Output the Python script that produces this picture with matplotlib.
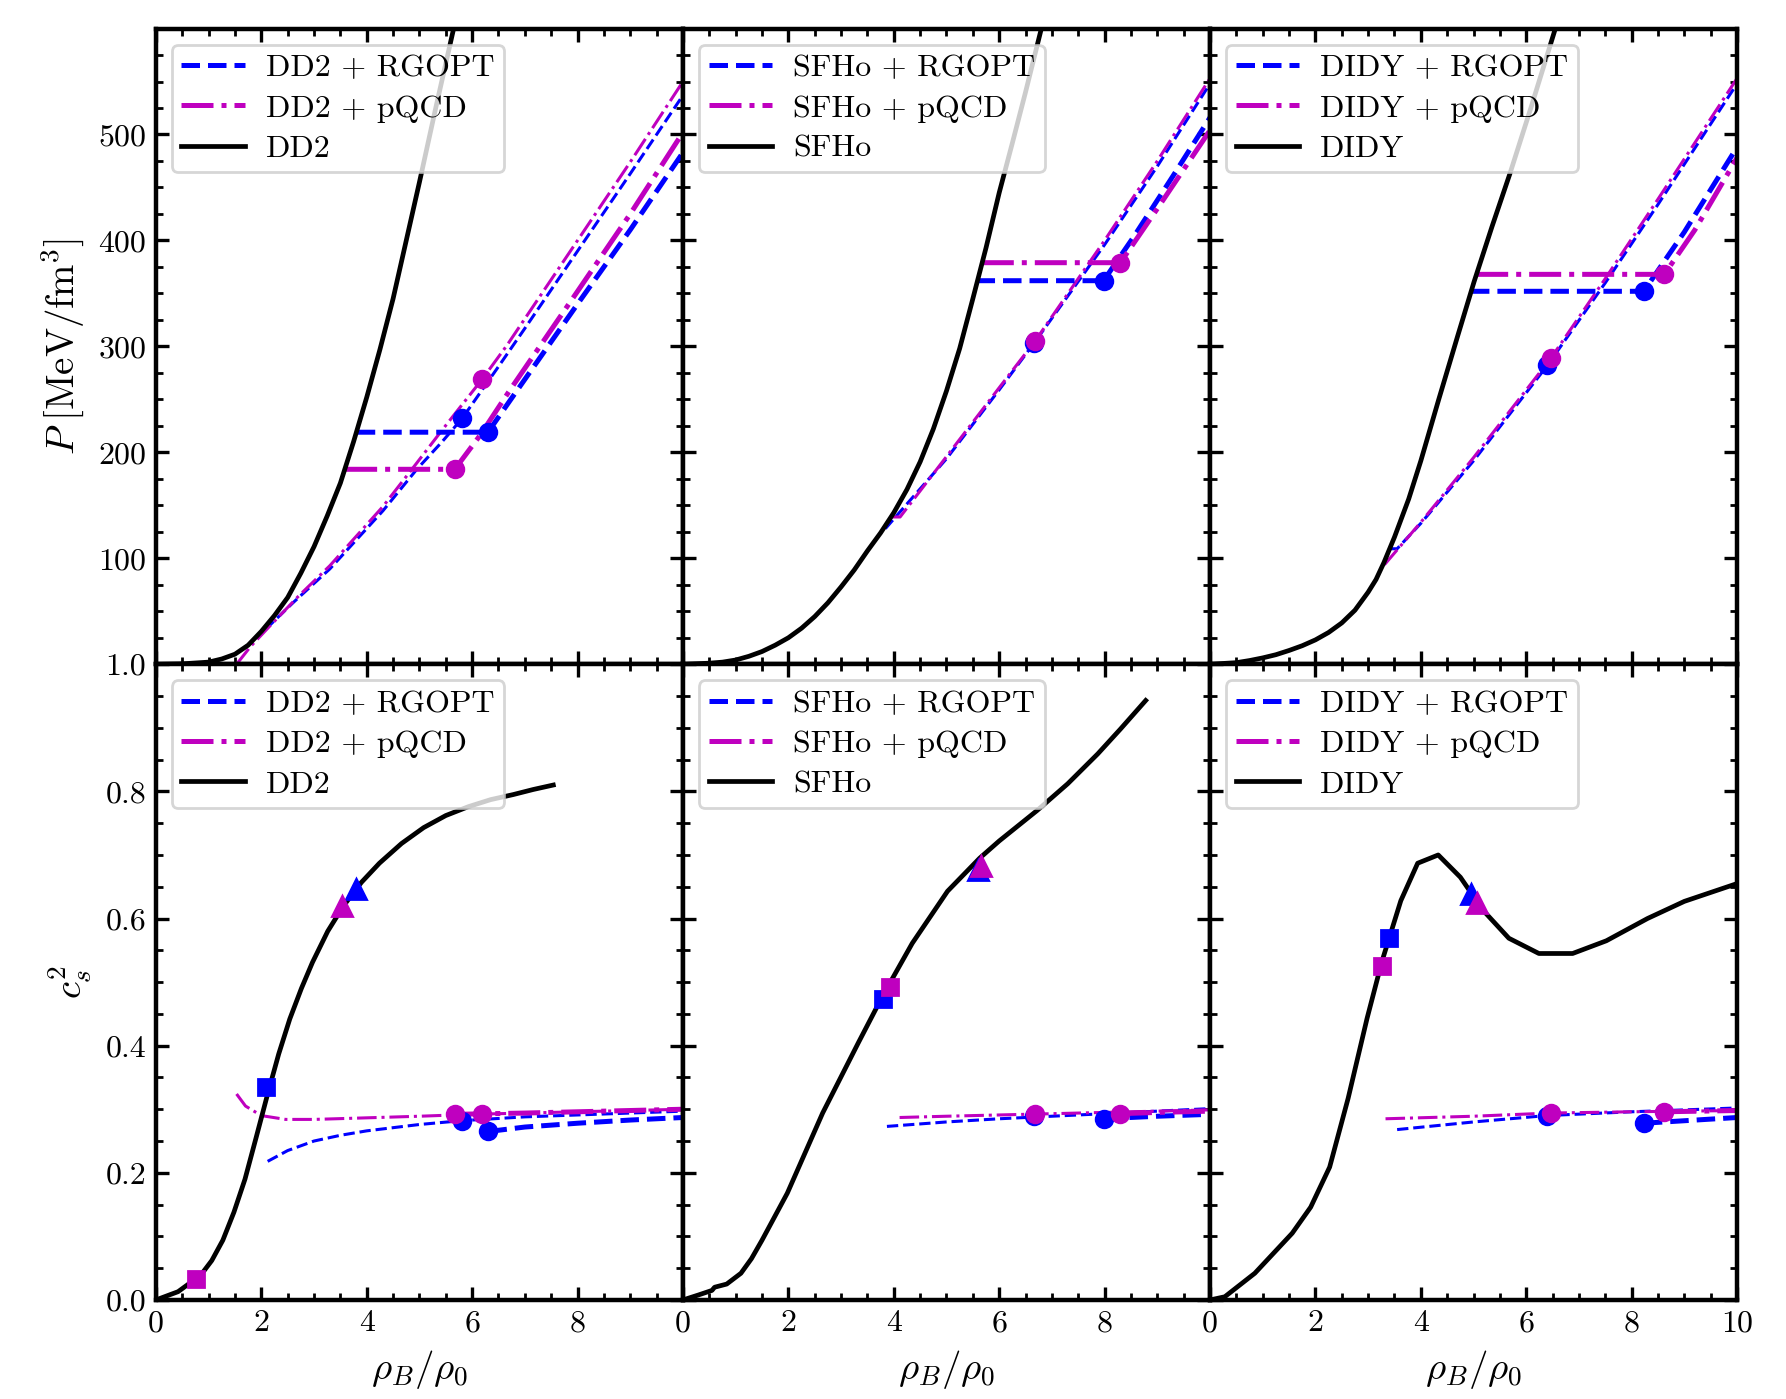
import matplotlib
matplotlib.use("Agg")
import matplotlib.pyplot as plt
from matplotlib.ticker import MultipleLocator

plt.rcParams['font.family'] = 'serif'
plt.rcParams['font.serif'] = ['cmr10']
plt.rcParams['mathtext.fontset'] = 'cm'
plt.rcParams['axes.formatter.use_mathtext'] = True

EOS_NAMES = ['DD2', 'SFHo', 'DIDY']

# ---------------- pressure P(rho) [MeV/fm^3] ----------------
# DD2
dd2_rho = [0, 0.5, 1.0, 1.25, 1.5, 1.75, 2.0, 2.25, 2.5, 2.75, 3.0, 3.25, 3.5, 3.75,
           4.0, 4.25, 4.5, 5.0, 5.3, 5.64, 5.7]
dd2_p = [0, 0.4, 2, 5, 9.5, 18, 31, 46, 63, 86, 111, 140, 171, 210,
         252, 297, 345, 455, 523, 598, 612]
dd2_rg_rho = [2.08, 2.6, 3.3, 4.31, 4.95, 5.43, 5.81, 6.5, 7.0, 8.0, 9.0, 10.0]
dd2_rg_p = [33, 58, 90, 145, 184, 210, 232, 281, 317, 390, 463, 537]
dd2_pq_rho = [1.53, 1.8, 2.16, 2.7, 3.3, 4.31, 4.95, 5.43, 6.19, 6.66, 8.0, 9.0, 10.0]
dd2_pq_p = [0, 17, 36, 64, 93, 149, 190, 221, 269, 301, 400, 474, 550]
dd2_rg_mix_rho = [3.81, 6.3, 6.72, 8.0, 9.0, 10.0]
dd2_rg_mix_p = [219, 219, 249, 340, 410, 483]
dd2_pq_mix_rho = [3.59, 5.67, 6.15, 6.72, 8.0, 9.0, 10.0]
dd2_pq_mix_p = [184, 184, 216, 259, 352, 425, 502]

# SFHo
sfho_rho = [0, 0.5, 0.75, 1.0, 1.25, 1.5, 1.75, 2.0, 2.25, 2.5, 2.75, 3.0, 3.25, 3.5,
            3.75, 4.0, 4.25, 4.5, 4.75, 5.0, 5.25, 5.5, 5.75, 6.0, 6.25, 6.5, 6.85]
sfho_p = [0, 1, 2, 4, 7.5, 12, 18, 25, 34, 45, 58, 73, 89, 107,
          124, 143, 165, 191, 222, 258, 298, 345, 393, 445, 492, 540, 610]
sfho_rg_rho = [3.84, 5.0, 6.0, 6.66, 8.0, 9.0, 10.0]
sfho_rg_p = [128, 194, 259, 303, 396, 470, 548]
sfho_pq_rho = [3.95, 4.12, 5.0, 6.0, 6.68, 8.0, 9.0, 10.0]
sfho_pq_p = [139, 139, 196, 261, 305, 400, 475, 553]
sfho_rg_mix_rho = [5.57, 7.98, 8.56, 9.3, 10.0]
sfho_rg_mix_p = [362, 362, 404, 461, 516]
sfho_pq_mix_rho = [5.67, 8.30, 9.0, 10.0]
sfho_pq_mix_p = [379, 379, 430, 504]

# DIDY
didy_rho = [0, 0.5, 0.75, 1.0, 1.25, 1.5, 1.75, 2.0, 2.25, 2.5, 2.75, 3.0, 3.15, 3.3,
            3.5, 3.77, 4.0, 4.34, 4.7, 5.01, 5.35, 5.69, 6.1, 6.54, 6.6]
didy_p = [0, 1.5, 3.5, 6, 9, 13, 17.5, 23, 30, 39, 51, 68, 80, 96,
          120, 156, 192, 250, 310, 361, 413, 463, 527, 598, 607]
didy_rg_rho = [3.4, 3.55, 4.0, 5.0, 6.4, 7.5, 8.5, 10.0]
didy_rg_p = [109, 109, 133, 192, 282, 360, 434, 548]
didy_pq_rho = [3.31, 4.0, 5.0, 6.47, 7.5, 8.5, 10.0]
didy_pq_p = [94, 134, 195, 289, 364, 439, 553]
didy_rg_mix_rho = [4.95, 8.23, 9.0, 10.0]
didy_rg_mix_p = [352, 352, 408, 488]
didy_pq_mix_rho = [5.05, 8.62, 9.2, 10.0]
didy_pq_mix_p = [368, 368, 410, 478]

# transition points (circles) in P: [thin, mixed]
dd2_rg_dot_rho, dd2_rg_dot_p = [5.81, 6.3], [232, 219]
dd2_pq_dot_rho, dd2_pq_dot_p = [6.19, 5.67], [269, 184]
sfho_rg_dot_rho, sfho_rg_dot_p = [6.66, 7.98], [303, 362]
sfho_pq_dot_rho, sfho_pq_dot_p = [6.68, 8.30], [305, 379]
didy_rg_dot_rho, didy_rg_dot_p = [6.4, 8.23], [282, 352]
didy_pq_dot_rho, didy_pq_dot_p = [6.47, 8.62], [289, 368]

# ---------------- speed of sound squared ----------------
dd2_cs_rho = [0, 0.42, 0.85, 1.06, 1.27, 1.48, 1.69, 1.9, 2.12, 2.33, 2.54, 2.76,
              2.97, 3.26, 3.56, 3.9, 4.24, 4.66, 5.08, 5.5, 5.93, 6.35, 6.78, 7.16, 7.54]
dd2_cs2 = [0, 0.013, 0.039, 0.062, 0.094, 0.138, 0.19, 0.255, 0.324, 0.387, 0.442, 0.49,
           0.531, 0.58, 0.62, 0.657, 0.687, 0.718, 0.743, 0.762, 0.776, 0.787, 0.795, 0.803, 0.81]
dd2_rg_cs_rho = [2.12, 2.5, 3.0, 3.5, 4.0, 5.0, 5.8, 7.0, 8.0, 9.0, 10.0]
dd2_rg_cs2 = [0.218, 0.235, 0.25, 0.259, 0.266, 0.276, 0.282, 0.288, 0.291, 0.294, 0.297]
dd2_pq_cs_rho = [1.53, 1.7, 2.0, 2.46, 3.0, 3.81, 5.0, 6.0, 7.0, 8.0, 9.0, 10.0]
dd2_pq_cs2 = [0.324, 0.305, 0.29, 0.284, 0.284, 0.286, 0.289, 0.292, 0.294, 0.296, 0.298, 0.300]
dd2_rg_mix_cs_rho = [6.31, 7.0, 8.0, 9.0, 10.0]
dd2_rg_mix_cs2 = [0.265, 0.272, 0.278, 0.283, 0.287]
dd2_pq_mix_cs_rho = [5.68, 7.0, 8.0, 9.0, 10.0]
dd2_pq_mix_cs2 = [0.292, 0.294, 0.296, 0.298, 0.300]

sfho_cs_rho = [0, 0.3, 0.55, 0.6, 0.83, 1.1, 1.3, 1.5, 1.98, 2.65, 3.33, 3.8, 4.35,
               5.02, 5.63, 6.0, 6.72, 7.3, 7.87, 8.3, 8.78]
sfho_cs2 = [0, 0.008, 0.015, 0.02, 0.025, 0.042, 0.065, 0.094, 0.168, 0.294, 0.405, 0.48,
            0.561, 0.643, 0.695, 0.722, 0.77, 0.812, 0.859, 0.898, 0.943]
sfho_rg_cs_rho = [3.87, 5.0, 6.0, 7.0, 8.0, 9.0, 10.0]
sfho_rg_cs2 = [0.273, 0.28, 0.285, 0.289, 0.293, 0.297, 0.301]
sfho_pq_cs_rho = [4.11, 5.0, 6.0, 7.0, 8.0, 9.0, 10.0]
sfho_pq_cs2 = [0.287, 0.289, 0.291, 0.293, 0.295, 0.297, 0.299]
sfho_rg_mix_cs_rho = [7.97, 9.0, 10.0]
sfho_rg_mix_cs2 = [0.285, 0.289, 0.292]
sfho_pq_mix_cs_rho = [8.29, 9.0, 10.0]
sfho_pq_mix_cs2 = [0.293, 0.295, 0.297]

didy_cs_rho = [0, 0.28, 0.85, 1.56, 1.91, 2.27, 2.62, 2.98, 3.26, 3.62, 3.94, 4.33,
               4.75, 5.18, 5.67, 6.24, 6.88, 7.52, 8.3, 9.0, 10.0]
didy_cs2 = [0, 0.005, 0.042, 0.105, 0.146, 0.209, 0.317, 0.443, 0.532, 0.628, 0.687, 0.700,
            0.665, 0.613, 0.569, 0.545, 0.545, 0.565, 0.6, 0.627, 0.655]
didy_rg_cs_rho = [3.55, 5.0, 6.38, 8.0, 10.0]
didy_rg_cs2 = [0.268, 0.28, 0.29, 0.296, 0.302]
didy_pq_cs_rho = [3.33, 5.0, 6.45, 8.0, 10.0]
didy_pq_cs2 = [0.285, 0.289, 0.294, 0.296, 0.298]
didy_rg_mix_cs_rho = [8.23, 10.0]
didy_rg_mix_cs2 = [0.278, 0.287]
didy_pq_mix_cs_rho = [8.62, 10.0]
didy_pq_mix_cs2 = [0.296, 0.298]

# circles in cs2: [thin, mixed]
dd2_rg_dot_cs2 = [0.282, 0.265]
dd2_pq_dot_cs2 = [0.292, 0.292]
sfho_rg_dot_cs2 = [0.29, 0.285]
sfho_pq_dot_cs2 = [0.293, 0.293]
didy_rg_dot_cs2 = [0.29, 0.278]
didy_pq_dot_cs2 = [0.294, 0.296]

# onset markers on the hadronic curve: squares and triangles (rho, cs2)
dd2_sq_rg, dd2_sq_pq = (2.08, 0.335), (0.76, 0.033)
dd2_tri_rg, dd2_tri_pq = (3.79, 0.646), (3.54, 0.62)
sfho_sq_rg, sfho_sq_pq = (3.8, 0.474), (3.93, 0.492)
sfho_tri_rg, sfho_tri_pq = (5.59, 0.676), (5.65, 0.682)
didy_sq_rg, didy_sq_pq = (3.4, 0.569), (3.26, 0.526)
didy_tri_rg, didy_tri_pq = (4.95, 0.639), (5.07, 0.624)

BLUE = '#0000ff'
MAG = '#bf00bf'
LW_HAD, LW_MIX, LW_THIN = 1.7, 1.8, 1.1

panels_p = [
    (dd2_rho, dd2_p, dd2_rg_rho, dd2_rg_p, dd2_pq_rho, dd2_pq_p,
     dd2_rg_mix_rho, dd2_rg_mix_p, dd2_pq_mix_rho, dd2_pq_mix_p,
     dd2_rg_dot_rho, dd2_rg_dot_p, dd2_pq_dot_rho, dd2_pq_dot_p),
    (sfho_rho, sfho_p, sfho_rg_rho, sfho_rg_p, sfho_pq_rho, sfho_pq_p,
     sfho_rg_mix_rho, sfho_rg_mix_p, sfho_pq_mix_rho, sfho_pq_mix_p,
     sfho_rg_dot_rho, sfho_rg_dot_p, sfho_pq_dot_rho, sfho_pq_dot_p),
    (didy_rho, didy_p, didy_rg_rho, didy_rg_p, didy_pq_rho, didy_pq_p,
     didy_rg_mix_rho, didy_rg_mix_p, didy_pq_mix_rho, didy_pq_mix_p,
     didy_rg_dot_rho, didy_rg_dot_p, didy_pq_dot_rho, didy_pq_dot_p),
]
panels_cs = [
    (dd2_cs_rho, dd2_cs2, dd2_rg_cs_rho, dd2_rg_cs2, dd2_pq_cs_rho, dd2_pq_cs2,
     dd2_rg_mix_cs_rho, dd2_rg_mix_cs2, dd2_pq_mix_cs_rho, dd2_pq_mix_cs2,
     dd2_rg_dot_rho, dd2_rg_dot_cs2, dd2_pq_dot_rho, dd2_pq_dot_cs2),
    (sfho_cs_rho, sfho_cs2, sfho_rg_cs_rho, sfho_rg_cs2, sfho_pq_cs_rho, sfho_pq_cs2,
     sfho_rg_mix_cs_rho, sfho_rg_mix_cs2, sfho_pq_mix_cs_rho, sfho_pq_mix_cs2,
     sfho_rg_dot_rho, sfho_rg_dot_cs2, sfho_pq_dot_rho, sfho_pq_dot_cs2),
    (didy_cs_rho, didy_cs2, didy_rg_cs_rho, didy_rg_cs2, didy_pq_cs_rho, didy_pq_cs2,
     didy_rg_mix_cs_rho, didy_rg_mix_cs2, didy_pq_mix_cs_rho, didy_pq_mix_cs2,
     didy_rg_dot_rho, didy_rg_dot_cs2, didy_pq_dot_rho, didy_pq_dot_cs2),
]
onsets = [
    (dd2_sq_rg, dd2_sq_pq, dd2_tri_rg, dd2_tri_pq),
    (sfho_sq_rg, sfho_sq_pq, sfho_tri_rg, sfho_tri_pq),
    (didy_sq_rg, didy_sq_pq, didy_tri_rg, didy_tri_pq),
]


def draw_panel(ax, name, d):
    (h_x, h_y, rg_x, rg_y, pq_x, pq_y, rgm_x, rgm_y, pqm_x, pqm_y,
     rgd_x, rgd_y, pqd_x, pqd_y) = d
    ax.plot(rg_x, rg_y, '--', color=BLUE, lw=LW_THIN, zorder=2)
    ax.plot(pq_x, pq_y, '-.', color=MAG, lw=LW_THIN, zorder=2)
    ax.plot(rgm_x, rgm_y, '--', color=BLUE, lw=LW_MIX, zorder=2,
            label=f'{name} + RGOPT')
    ax.plot(pqm_x, pqm_y, '-.', color=MAG, lw=LW_MIX, zorder=2,
            label=f'{name} + pQCD')
    ax.plot(h_x, h_y, '-', color='k', lw=LW_HAD, zorder=3, label=name)
    ax.plot(rgd_x, rgd_y, 'o', color=BLUE, ms=6, zorder=4)
    ax.plot(pqd_x, pqd_y, 'o', color=MAG, ms=6, zorder=4)
    ax.legend(loc='upper left', fontsize=11.5, borderpad=0.3, labelspacing=0.37,
              handlelength=2.0, handletextpad=0.65, fancybox=True,
              edgecolor='0.8', framealpha=0.8)


def style_axis(ax):
    ax.set_xlim(0, 10)
    ax.xaxis.set_major_locator(MultipleLocator(2))
    ax.xaxis.set_minor_locator(MultipleLocator(0.5))
    ax.tick_params(which='both', direction='in', top=True, right=True,
                   labelsize=11.5)
    ax.tick_params(which='major', length=4.8, width=1.2)
    ax.tick_params(which='minor', length=2.5, width=1.0)
    for s in ax.spines.values():
        s.set_linewidth(1.6)


fig, axes = plt.subplots(2, 3, figsize=(8.93, 6.995), dpi=200)
fig.subplots_adjust(left=0.0873, right=0.9726, top=0.9796, bottom=0.0708,
                    wspace=0, hspace=0)

for j, name in enumerate(EOS_NAMES):
    ax = axes[0, j]
    draw_panel(ax, name, panels_p[j])
    style_axis(ax)
    ax.set_ylim(0, 600)
    ax.set_yticks([0, 100, 200, 300, 400, 500])
    ax.yaxis.set_minor_locator(MultipleLocator(25))
    ax.set_xticklabels([])
    if j == 0:
        ax.set_yticklabels(['', '100', '200', '300', '400', '500'])
        ax.set_ylabel(r'$P\;[\mathrm{MeV/fm^3}]$', fontsize=14)
    else:
        ax.set_yticklabels([])

    ax = axes[1, j]
    draw_panel(ax, name, panels_cs[j])
    sq_rg, sq_pq, tri_rg, tri_pq = onsets[j]
    ax.plot(*sq_rg, 's', color=BLUE, ms=6, zorder=5)
    ax.plot(*sq_pq, 's', color=MAG, ms=6, zorder=5)
    ax.plot(*tri_rg, '^', color=BLUE, ms=7, zorder=5)
    ax.plot(*tri_pq, '^', color=MAG, ms=7, zorder=5)
    style_axis(ax)
    ax.set_ylim(0, 1.0)
    ax.set_yticks([0, 0.2, 0.4, 0.6, 0.8, 1.0])
    ax.yaxis.set_minor_locator(MultipleLocator(0.05))
    ax.set_xticks([0, 2, 4, 6, 8, 10])
    if j < 2:
        ax.set_xticklabels(['0', '2', '4', '6', '8', ''])
    else:
        ax.set_xticklabels(['0', '2', '4', '6', '8', '10'])
    if j == 0:
        ax.set_yticklabels(['0.0', '0.2', '0.4', '0.6', '0.8', '1.0'])
        ax.set_ylabel(r'$c_s^2$', fontsize=14)
    else:
        ax.set_yticklabels([])
    ax.set_xlabel(r'$\rho_B/\rho_0$', fontsize=14)

fig.savefig('out.png', dpi=200)
